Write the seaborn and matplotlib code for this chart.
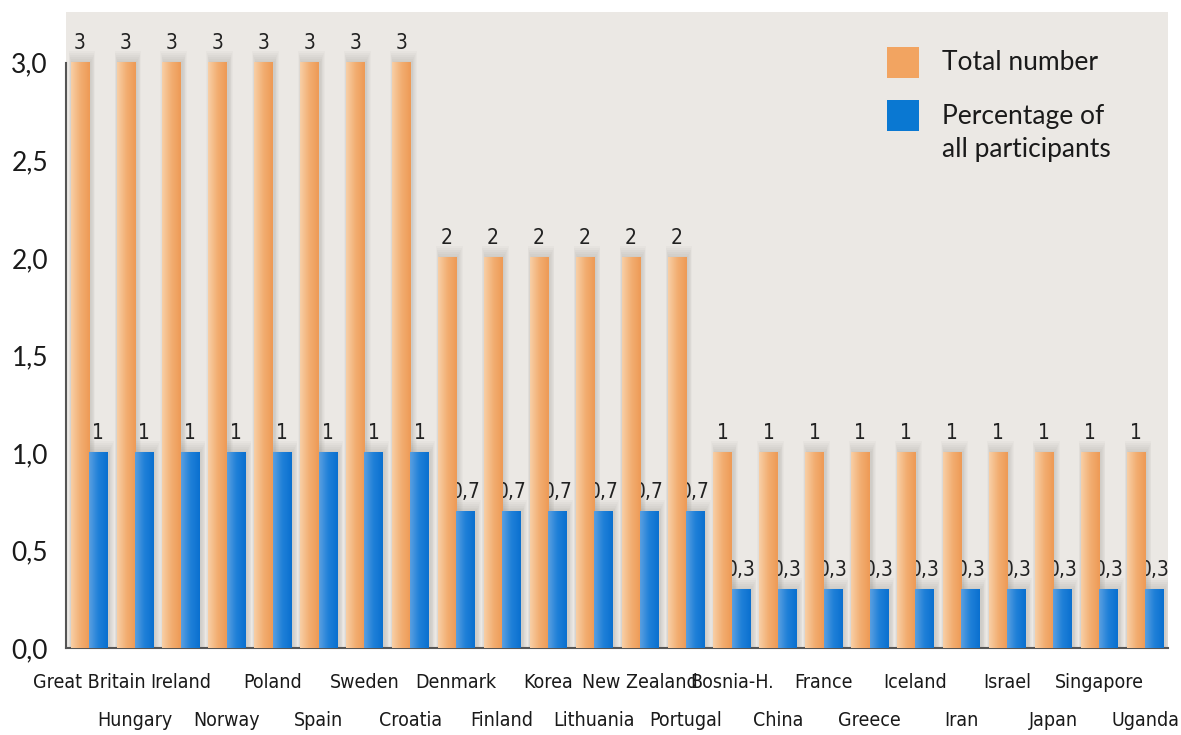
import numpy as np
import pandas as pd
import matplotlib
matplotlib.use('Agg')
import matplotlib.pyplot as plt
import seaborn as sns
from matplotlib import font_manager
from matplotlib.patches import Rectangle
from matplotlib.colors import LinearSegmentedColormap

# data
countries = ['Great Britain', 'Hungary', 'Ireland', 'Norway', 'Poland', 'Spain',
             'Sweden', 'Croatia', 'Denmark', 'Finland', 'Korea', 'Lithuania',
             'New Zealand', 'Portugal', 'Bosnia-H.', 'China', 'France', 'Greece',
             'Iceland', 'Iran', 'Israel', 'Japan', 'Singapore', 'Uganda']
total_number = [3, 3, 3, 3, 3, 3, 3, 3, 2, 2, 2, 2, 2, 2,
                1, 1, 1, 1, 1, 1, 1, 1, 1, 1]
percentage = [1.0, 1.0, 1.0, 1.0, 1.0, 1.0, 1.0, 1.0, 0.7, 0.7, 0.7, 0.7, 0.7, 0.7,
              0.3, 0.3, 0.3, 0.3, 0.3, 0.3, 0.3, 0.3, 0.3, 0.3]
series_names = ['Total number', 'Percentage of\nall participants']
yticks = [0.0, 0.5, 1.0, 1.5, 2.0, 2.5, 3.0]
ytick_labels = ['0,0', '0,5', '1,0', '1,5', '2,0', '2,5', '3,0']

ORANGE = '#f2a86a'
BLUE = '#1679d4'

# the reference uses a condensed face; take one if installed, else a smaller Lato
narrow = [f for f in font_manager.fontManager.ttflist
          if ('Narrow' in f.name or 'Condensed' in f.name or 'Condensed' in f.fname)
          and 'Bold' not in f.fname and 'Oblique' not in f.fname and 'Italic' not in f.fname]
if narrow:
    def small_font(size):
        return font_manager.FontProperties(fname=narrow[0].fname, size=size)
    xlab_size, val_size = 14, 15
else:
    def small_font(size):
        return font_manager.FontProperties(family=['Lato', 'DejaVu Sans'], size=size)
    xlab_size, val_size = 13, 12

df = pd.DataFrame({
    'country': countries * 2,
    'value': total_number + percentage,
    'series': [series_names[0]] * len(countries) + [series_names[1]] * len(countries),
})

sns.set_theme(style='white')
plt.rcParams['font.family'] = ['Lato', 'DejaVu Sans']

fig = plt.figure(figsize=(11.81, 7.35), dpi=100)
ax = fig.add_axes([66 / 1181, 87 / 735, 1102 / 1181, 636 / 735])
ax.set_facecolor('#ebe8e4')

sns.barplot(data=df, x='country', y='value', hue='series', palette=[ORANGE, BLUE],
            width=0.8, saturation=1, legend=False, linewidth=0, zorder=3, ax=ax)

def fmt(v):
    return f'{v:g}'.replace('.', ',')

for cont, vals in zip(ax.containers, [total_number, percentage]):
    for t in ax.bar_label(cont, labels=[fmt(v) for v in vals], padding=7, color='#222222'):
        t.set_fontproperties(small_font(val_size))

# soft shadow and left-to-right shading on every bar
cmaps = [LinearSegmentedColormap.from_list('o', ['#f8cfa6', '#f2ae72', '#ee9a55']),
         LinearSegmentedColormap.from_list('b', ['#5a9fe0', '#1f80d8', '#0a70cf'])]
grad = np.linspace(0, 1, 64).reshape(1, -1)
for cont, cmap in zip(ax.containers, cmaps):
    for p in cont.patches:
        x, w, h = p.get_x(), p.get_width(), p.get_height()
        for k in range(1, 7):
            ax.add_patch(Rectangle((x - 0.012 * k + 0.03, 0), w + 0.03 * k, h + 0.01 * k,
                                   color='#7d7873', alpha=0.045, lw=0, zorder=2))
        ax.imshow(grad, cmap=cmap, extent=[x, x + w, 0, h], aspect='auto',
                  interpolation='bicubic', zorder=3.5)

ax.set_xlim(-0.5, len(countries) - 0.5)
ax.set_ylim(0, 3.26)
ax.set_axisbelow(True)

ax.set_yticks(yticks, ytick_labels)
ax.tick_params(axis='y', direction='in', length=20, width=1, color='#666666',
               labelsize=19, labelcolor='#1a1a1a', pad=13)

ax.set_xticks(range(len(countries)), countries)
ax.set_xticks(np.arange(0.5, len(countries), 1), minor=True)
ax.tick_params(axis='x', which='major', length=0, labelcolor='#1a1a1a', pad=18)
ax.tick_params(axis='x', which='minor', direction='in', length=11, width=1.5, color='#444444')
for lbl in ax.get_xticklabels():
    lbl.set_fontproperties(small_font(xlab_size))
for i, t in enumerate(ax.xaxis.get_major_ticks()):
    if i % 2:
        t.set_pad(45)

ax.set_xlabel('')
ax.set_ylabel('')
for side in ['top', 'right']:
    ax.spines[side].set_visible(False)
for side in ['left', 'bottom']:
    ax.spines[side].set_color('#555555')
    ax.spines[side].set_linewidth(1.5)
ax.spines['left'].set_bounds(0, 3)

# legend drawn by hand: square + text
for (y0, col) in [(0.896, '#f2a461'), (0.813, '#0a78d2')]:
    ax.add_patch(Rectangle((0.745, y0), 0.029, 0.049, transform=ax.transAxes,
                           color=col, lw=0, zorder=6))
ax.text(0.795, 0.921, series_names[0], transform=ax.transAxes, fontsize=19,
        va='center', ha='left', color='#1a1a1a')
ax.text(0.795, 0.809, series_names[1], transform=ax.transAxes, fontsize=19,
        va='center', ha='left', color='#1a1a1a', linespacing=1.4)

fig.savefig('out.png', dpi=100)
